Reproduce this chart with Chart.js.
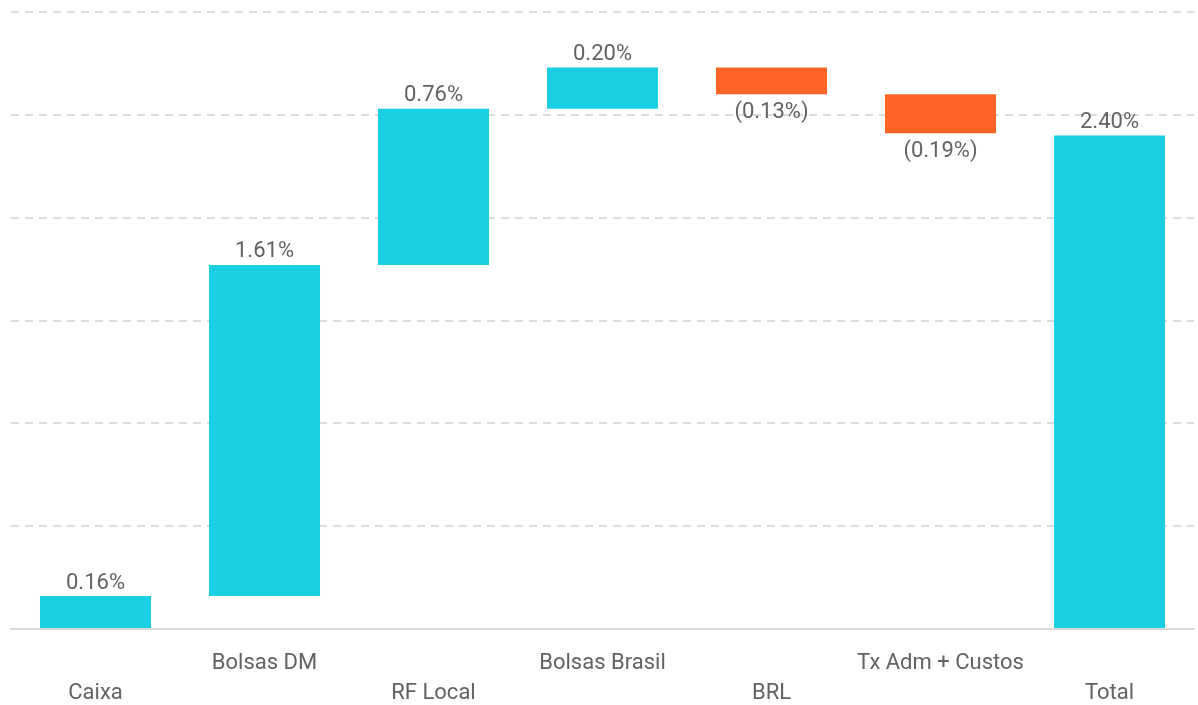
<!DOCTYPE html>
<html>
<head>
<meta charset="utf-8">
<script src="https://cdn.jsdelivr.net/npm/chart.js@4"></script>
<style>
  html, body { margin: 0; padding: 0; background: #fff; }
  #wrap { width: 1198px; height: 705px; }
</style>
</head>
<body>
<div id="wrap"><canvas id="myChart" width="1198" height="705"></canvas></div>
<script>
var categories = ["Caixa", "Bolsas DM", "RF Local", "Bolsas Brasil", "BRL", "Tx Adm + Custos", "Total"];
var contributions = [0.16, 1.61, 0.76, 0.20, -0.13, -0.19, 2.40];
var isTotal = [false, false, false, false, false, false, true];
var yTicks = [0, 0.5, 1.0, 1.5, 2.0, 2.5, 3.0];

function getfloating(values){
  var out = [];
  var running = 0;
  for (var i = 0; i < values.length; i++) {
    if (isTotal[i]) {
      out.push([0, values[i]]);
    } else {
      out.push([running, running + values[i]]);
      running = running + values[i];
    }
  }
  return out;
}

function getlabels(names){
  // stagger labels on two rows
  var out = [];
  for (var i = 0; i < names.length; i++) {
    if (i % 2 == 0) out.push(["", names[i]]);
    else out.push([names[i], ""]);
  }
  return out;
}

function fmt(v){
  var s = Math.abs(v).toFixed(2) + "%";
  return v < 0 ? "(" + s + ")" : s;
}

var colors = contributions.map(function(v){ return v < 0 ? "#ff6427" : "#1bcfe2"; });

var valueLabels = {
  id: "valueLabels",
  afterDatasetsDraw: function(chart){
    var ctx = chart.ctx;
    var meta = chart.getDatasetMeta(0);
    ctx.save();
    ctx.font = "22px Roboto";
    ctx.fillStyle = "#626262";
    ctx.textAlign = "center";
    for (var i = 0; i < meta.data.length; i++) {
      var bar = meta.data[i];
      var top = Math.min(bar.y, bar.base);
      var bottom = Math.max(bar.y, bar.base);
      if (contributions[i] < 0) {
        ctx.textBaseline = "middle";
        ctx.fillText(fmt(contributions[i]), bar.x, bottom + 18);
      } else {
        ctx.textBaseline = "middle";
        ctx.fillText(fmt(contributions[i]), bar.x, top - 13);
      }
    }
    ctx.restore();
  }
};

var ctx = document.getElementById("myChart").getContext("2d");
var myChart = new Chart(ctx, {
  type: "bar",
  data: {
    labels: getlabels(categories),
    datasets: [{
      data: getfloating(contributions),
      backgroundColor: colors,
      borderWidth: 0,
      borderSkipped: false,
      categoryPercentage: 1,
      barPercentage: 0.657
    }]
  },
  options: {
    responsive: false,
    animation: false,
    layout: { padding: { left: 11, right: 4, top: 12, bottom: 0 } },
    plugins: {
      legend: { display: false },
      tooltip: { enabled: false }
    },
    scales: {
      x: {
        grid: { display: false },
        border: { display: true, color: "#dadada", width: 2 },
        afterFit: function(axis){ axis.height = 76; },
        ticks: {
          color: "#626262",
          font: { family: "Roboto", size: 22, lineHeight: 1.36 },
          padding: 12,
          maxRotation: 0,
          autoSkip: false
        }
      },
      y: {
        min: 0,
        max: 3,
        afterBuildTicks: function(axis){
          axis.ticks = yTicks.map(function(v){ return { value: v }; });
        },
        ticks: { display: false },
        grid: { color: "#dcdcdc", lineWidth: 2, drawTicks: false },
        border: { display: false, dash: [8, 6] }
      }
    }
  },
  plugins: [valueLabels]
});
</script>
</body>
</html>
